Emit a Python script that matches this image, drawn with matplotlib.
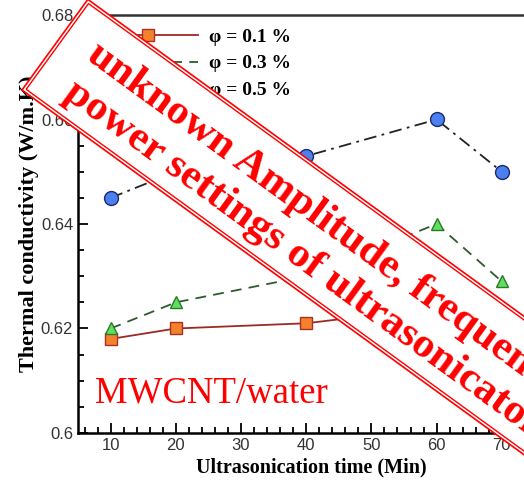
import matplotlib
matplotlib.use("Agg")
import matplotlib.pyplot as plt
from matplotlib.patches import Rectangle
from matplotlib.ticker import MultipleLocator, FuncFormatter

# ultrasonication time (min)
time_min = [10, 20, 40, 60, 70]
# thermal conductivity (W/m.K) for each volume fraction
k_phi01 = [0.618, 0.620, 0.621, 0.624, 0.623]
k_phi03 = [0.620, 0.625, 0.630, 0.640, 0.629]
k_phi05 = [0.645, 0.650, 0.653, 0.660, 0.650]
labels = ['\u03c6 = 0.1 %', '\u03c6 = 0.3 %', '\u03c6 = 0.5 %']

fig = plt.figure(figsize=(5.24, 4.8), dpi=100)
ax = fig.add_axes([78/524, 47/480, (545-78)/524, (465-47)/480])

ax.plot(time_min, k_phi01, color='#9c2a24', lw=1.3, marker='s', ms=8.5,
        mfc='#f4822c', mec='#a83222', mew=1.0, label=labels[0])
ax.plot(time_min, k_phi03, color='#2f5a2f', lw=1.3, ls=(0, (6, 4)), marker='^', ms=9,
        mfc='#5ee05e', mec='#2a7a2a', mew=1.0, label=labels[1])
ax.plot(time_min, k_phi05, color='#222222', lw=1.3, ls=(0, (7, 3, 1.5, 3)), marker='o', ms=10,
        mfc='#4b80f0', mec='#1a2a6a', mew=1.0, label=labels[2])

ax.set_xlim(5, 5 + (545-78)/6.52)
ax.set_ylim(0.6, 0.68)
ax.xaxis.set_major_locator(MultipleLocator(10))
ax.xaxis.set_minor_locator(MultipleLocator(2))
ax.yaxis.set_major_locator(MultipleLocator(0.02))
ax.yaxis.set_minor_locator(MultipleLocator(0.005))
ax.yaxis.set_major_formatter(FuncFormatter(lambda v, p: '%g' % round(v, 3)))
ax.tick_params(which='both', direction='in', top=False, right=False,
               labelsize=12, labelcolor='#333333', width=1.3)
ax.tick_params(which='major', length=7)
ax.tick_params(which='minor', length=4)
for lab in ax.get_xticklabels() + ax.get_yticklabels():
    lab.set_family('Liberation Sans')
for s in ['left', 'bottom']:
    ax.spines[s].set_linewidth(1.8)
ax.spines['top'].set_linewidth(1.8)
ax.spines['top'].set_color('#333333')

ax.set_xlabel('Ultrasonication time (Min)', fontsize=14.5, fontweight='bold',
              family='Liberation Serif', labelpad=3)
ax.set_ylabel('Thermal conductivity (W/m.K)', fontsize=16, fontweight='bold',
              family='Liberation Serif', labelpad=1)

leg = ax.legend(loc='upper left', bbox_to_anchor=(81/524, 1 - 11/480),
                bbox_transform=fig.transFigure, frameon=False, handlelength=5.1,
                handletextpad=0.6, labelspacing=0.45,
                prop={'family': 'Liberation Serif', 'weight': 'bold', 'size': 14})

ax.text(7.6, 0.6058, 'MWCNT/water', color='red', fontsize=26.5, family='Liberation Serif')

# watermark banner
ang = -36
c, s_ = 0.809, 0.588
banner = Rectangle((0.22, 3.90), 10, 1.12, angle=ang, transform=fig.dpi_scale_trans,
                   facecolor='white', edgecolor='red', lw=1.2, zorder=10)
fig.add_artist(banner)
inner = Rectangle((0.22 + 0.03*c + 0.03*s_, 3.90 - 0.03*s_ + 0.03*c), 10, 1.06,
                  angle=ang, transform=fig.dpi_scale_trans, facecolor='none',
                  edgecolor='red', lw=1.0, zorder=11)
fig.add_artist(inner)
fig.text(0.78, 4.12, 'unknown Amplitude, frequency,\npower settings of ultrasonicator',
         transform=fig.dpi_scale_trans, rotation=ang, rotation_mode='anchor',
         ha='left', va='center', multialignment='center', color='red',
         fontsize=31, fontweight='bold', family='Liberation Serif', zorder=12)

fig.savefig('out.png', dpi=100)
